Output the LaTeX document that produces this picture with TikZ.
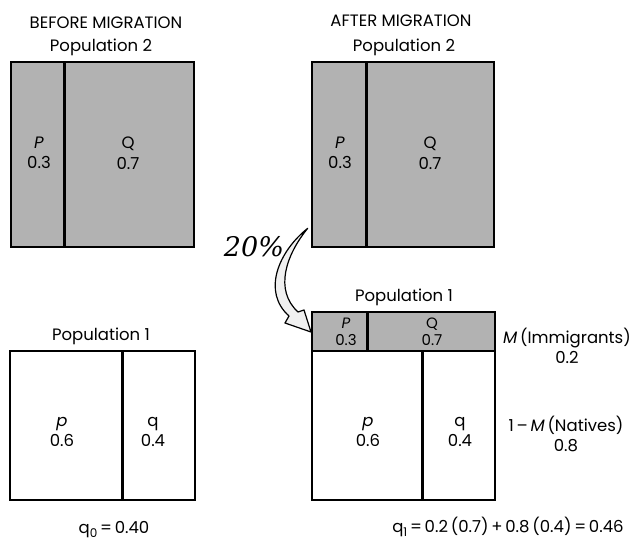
\documentclass[tikz,border=0pt]{standalone}
\usepackage{fontspec}
\setmainfont{Poppins}
\newfontfamily\handfont{DejaVu Serif}
\begin{document}
\begin{tikzpicture}[x=1pt,y=-1pt,
  lbl/.style={font=\fontsize{16.5}{20.5}\selectfont, inner sep=0pt, align=center},
  shadebox/.style={fill=black!30, draw=black, line width=1.2pt},
  plainbox/.style={draw=black, line width=1.2pt},
  divider/.style={draw=black, line width=3pt},
  bigarrow/.style={fill=black!6, draw=black, line width=1.2pt, line join=round}]
\useasboundingbox (0,0) rectangle (638,544);

% ---------- BEFORE: Population 2 ----------
\node[lbl] (t1) at (106,23) {BEFORE MIGRATION};
\node[lbl] (t2) at (101,47) {Population 2};
\draw[shadebox] (11,62) rectangle (194,247);
\draw[divider] (64,62) -- (64,247);
\node[lbl] (bP) at (39,153) {\itshape P\\0.3};
\node[lbl] (bQ) at (128,153) {Q\\0.7};

% ---------- AFTER: Population 2 ----------
\node[lbl] (t3) at (401,21) {AFTER MIGRATION};
\node[lbl] (t4) at (404,47) {Population 2};
\draw[shadebox] (312,62) rectangle (494,247);
\draw[divider] (366,62) -- (366,247);
\node[lbl] (aP) at (340,153) {\itshape P\\0.3};
\node[lbl] (aQ) at (430,153) {Q\\0.7};

% ---------- BEFORE: Population 1 ----------
\node[lbl] (t5) at (101,336) {Population 1};
\draw[plainbox] (10,351) rectangle (195,500);
\draw[divider] (122,351) -- (122,500);
\node[lbl] (bp) at (62,432) {\itshape p\\0.6};
\node[lbl] (bq) at (153,432) {q\\0.4};
\node[lbl] (q0) at (114,530) {q\raisebox{-0.45ex}{\fontsize{12}{12}\selectfont 0}\,=\,0.40};

% ---------- AFTER: Population 1 ----------
\node[lbl] (t6) at (404,297) {Population 1};
\draw[shadebox] (312,312) rectangle (495,351);
\draw[divider] (367,312) -- (367,351);
\draw[plainbox] (312,351) rectangle (495,500);
\draw[divider] (422,351) -- (422,500);
\node[lbl, font=\fontsize{15}{17}\selectfont] (sP) at (346,332) {\itshape P\\0.3};
\node[lbl, font=\fontsize{15}{17}\selectfont] (sQ) at (432,332) {Q\\0.7};
\node[lbl] (ap) at (368,432) {\itshape p\\0.6};
\node[lbl] (aq) at (460,432) {q\\0.4};
\node[lbl] (mi) at (567,346) {{\itshape M}\,(Immigrants)\\0.2};
\node[lbl] (mn) at (566,434) {1\,–\,{\itshape M}\,(Natives)\\0.8};
\node[lbl] (q1) at (508,527) {q\raisebox{-0.45ex}{\fontsize{12}{12}\selectfont 1}\,=\,0.2\,(0.7)\,+\,0.8\,(0.4)\,=\,0.46};

% ---------- migration arrow ----------
\node[inner sep=0pt, font=\fontsize{27}{27}\selectfont\handfont\itshape] (pct) at (254,247) {20\%};
\coordinate (tail) at (307.7,228.3);
\coordinate (hl) at (285,323);
\coordinate (tip) at (311,332);
\coordinate (hr) at (304,310);
\path[bigarrow] (tail) .. controls (278,252) and (262,292) .. (289,316)
  -- (hl) -- (tip) -- (hr) -- (298,312)
  .. controls (274,290) and (286,255) .. (tail) -- cycle;
\end{tikzpicture}
\end{document}
